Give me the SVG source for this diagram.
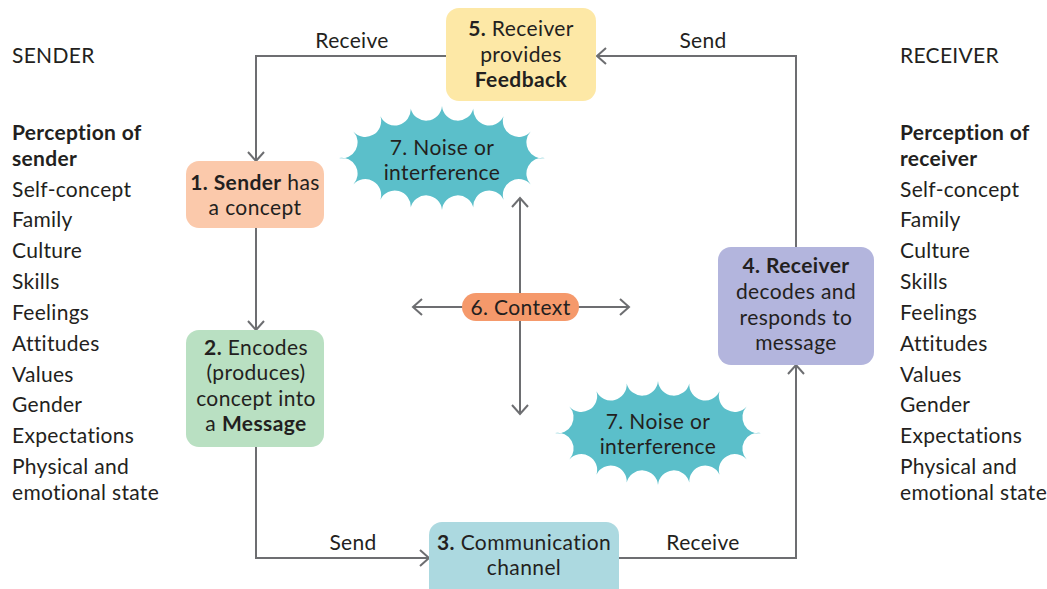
<svg xmlns="http://www.w3.org/2000/svg" xmlns:xlink="http://www.w3.org/1999/xlink" width="1047" height="589" viewBox="0 0 1047 589">
  <style>
    text { font-family: Lato, "Noto Sans", "Liberation Sans", sans-serif; fill: #231f20; }
    .side { font-size: 21px; letter-spacing: 0.3px; }
    .box { font-size: 21px; letter-spacing: 0.4px; text-anchor: middle; }
    .lbl { font-size: 21px; letter-spacing: 0.3px; text-anchor: middle; }
    .b { font-weight: bold; }
    .wire { fill: none; stroke: #6d6e71; stroke-width: 2; }
  </style>
  <defs>
    <marker id="arrow" markerUnits="userSpaceOnUse" markerWidth="14" markerHeight="20" refX="10" refY="9" orient="auto">
      <path d="M1,1 L10,9 L1,17" fill="none" stroke="#6d6e71" stroke-width="2"/>
    </marker>
    <!-- sixteen-point burst: evenly spaced tips on an ellipse, joined by circular bites -->
    <path id="burst" fill="#5bbfca" d="M103,0
      A15.9,15.9 0 0 0 88.65,26.47 A15.9,15.9 0 0 0 61.55,41.69 A15.9,15.9 0 0 0 31.31,49.54 A15.9,15.9 0 0 0 0,52
      A15.9,15.9 0 0 0 -31.31,49.54 A15.9,15.9 0 0 0 -61.55,41.69 A15.9,15.9 0 0 0 -88.65,26.47 A15.9,15.9 0 0 0 -103,0
      A15.9,15.9 0 0 0 -88.65,-26.47 A15.9,15.9 0 0 0 -61.55,-41.69 A15.9,15.9 0 0 0 -31.31,-49.54 A15.9,15.9 0 0 0 0,-52
      A15.9,15.9 0 0 0 31.31,-49.54 A15.9,15.9 0 0 0 61.55,-41.69 A15.9,15.9 0 0 0 88.65,-26.47 A15.9,15.9 0 0 0 103,0 Z"/>
  </defs>

  <rect width="1047" height="589" fill="#ffffff"/>

  <!-- sender column -->
  <g id="sender-column">
    <text class="side" x="12" y="63">SENDER</text>
    <text class="side b" x="12" y="140">Perception of</text>
    <text class="side b" x="12" y="166">sender</text>
    <text class="side" x="12" y="197">Self-concept</text>
    <text class="side" x="12" y="227">Family</text>
    <text class="side" x="12" y="258">Culture</text>
    <text class="side" x="12" y="289">Skills</text>
    <text class="side" x="12" y="320">Feelings</text>
    <text class="side" x="12" y="351">Attitudes</text>
    <text class="side" x="12" y="382">Values</text>
    <text class="side" x="12" y="412">Gender</text>
    <text class="side" x="12" y="443">Expectations</text>
    <text class="side" x="12" y="474">Physical and</text>
    <text class="side" x="12" y="500">emotional state</text>
  </g>

  <!-- receiver column -->
  <g id="receiver-column">
    <text class="side" x="900" y="63">RECEIVER</text>
    <text class="side b" x="900" y="140">Perception of</text>
    <text class="side b" x="900" y="166">receiver</text>
    <text class="side" x="900" y="197">Self-concept</text>
    <text class="side" x="900" y="227">Family</text>
    <text class="side" x="900" y="258">Culture</text>
    <text class="side" x="900" y="289">Skills</text>
    <text class="side" x="900" y="320">Feelings</text>
    <text class="side" x="900" y="351">Attitudes</text>
    <text class="side" x="900" y="382">Values</text>
    <text class="side" x="900" y="412">Gender</text>
    <text class="side" x="900" y="443">Expectations</text>
    <text class="side" x="900" y="474">Physical and</text>
    <text class="side" x="900" y="500">emotional state</text>
  </g>

  <!-- connectors -->
  <g id="connectors">
    <path class="wire" d="M446,56 H256 V161" marker-end="url(#arrow)"/>
    <path class="wire" d="M796,247 V56 H597" marker-end="url(#arrow)"/>
    <path class="wire" d="M256,228 V330" marker-end="url(#arrow)"/>
    <path class="wire" d="M256,447 V558 H429" marker-end="url(#arrow)"/>
    <path class="wire" d="M619,558 H796 V365" marker-end="url(#arrow)"/>
    <path class="wire" d="M520,307 V198" marker-end="url(#arrow)"/>
    <path class="wire" d="M520,307 V414" marker-end="url(#arrow)"/>
    <path class="wire" d="M520,307 H413" marker-end="url(#arrow)"/>
    <path class="wire" d="M520,307 H629" marker-end="url(#arrow)"/>
    <text class="lbl" x="352" y="48">Receive</text>
    <text class="lbl" x="703" y="48">Send</text>
    <text class="lbl" x="353" y="550">Send</text>
    <text class="lbl" x="703" y="550">Receive</text>
  </g>

  <!-- 5. feedback -->
  <g id="node-feedback">
    <rect x="446" y="8" width="150" height="93" rx="13" fill="#fde8a6"/>
    <text class="box" x="521" y="36"><tspan class="b">5.</tspan> Receiver</text>
    <text class="box" x="521" y="62">provides</text>
    <text class="box b" x="521" y="87">Feedback</text>
  </g>

  <!-- 1. sender -->
  <g id="node-sender">
    <rect x="186" y="161" width="138" height="67" rx="13" fill="#fbc9ab"/>
    <text class="box" x="255" y="190"><tspan class="b">1. Sender</tspan> has</text>
    <text class="box" x="255" y="215">a concept</text>
  </g>

  <!-- 2. message -->
  <g id="node-message">
    <rect x="186" y="330" width="138" height="117" rx="13" fill="#b9e0c2"/>
    <text class="box" x="256" y="355"><tspan class="b">2.</tspan> Encodes</text>
    <text class="box" x="256" y="380">(produces)</text>
    <text class="box" x="256" y="406">concept into</text>
    <text class="box" x="256" y="431">a <tspan class="b">Message</tspan></text>
  </g>

  <!-- 3. channel -->
  <g id="node-channel">
    <rect x="429" y="522" width="190" height="80" rx="13" fill="#acd9e0"/>
    <text class="box" x="524" y="550"><tspan class="b">3.</tspan> Communication</text>
    <text class="box" x="524" y="575">channel</text>
  </g>

  <!-- 4. receiver -->
  <g id="node-receiver">
    <rect x="718" y="247" width="156" height="118" rx="13" fill="#b3b5dd"/>
    <text class="box b" x="796" y="273">4. Receiver</text>
    <text class="box" x="796" y="299">decodes and</text>
    <text class="box" x="796" y="325">responds to</text>
    <text class="box" x="796" y="350">message</text>
  </g>

  <!-- 6. context -->
  <g id="node-context">
    <rect x="462" y="293" width="117" height="28" rx="14" fill="#f5996b"/>
    <text class="box" x="520.5" y="314.5">6. Context</text>
  </g>

  <!-- 7. noise (upper) -->
  <g id="node-noise-1">
    <use xlink:href="#burst" transform="translate(442,158)"/>
    <text class="box" x="442" y="155">7. Noise or</text>
    <text class="box" x="442" y="180">interference</text>
  </g>

  <!-- 7. noise (lower) -->
  <g id="node-noise-2">
    <use xlink:href="#burst" transform="translate(658,433)"/>
    <text class="box" x="658" y="429">7. Noise or</text>
    <text class="box" x="658" y="454">interference</text>
  </g>
</svg>
